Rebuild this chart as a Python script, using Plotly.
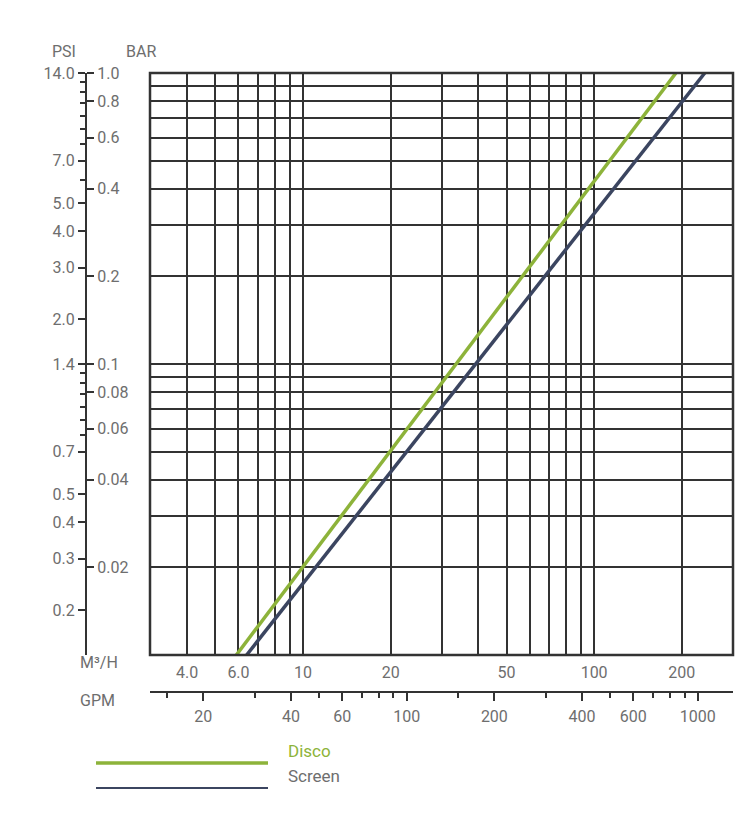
import numpy as np
import plotly.graph_objects as go

# flow in m3/h, pressure drop in bar
disco_flow = [5.9, 191]
disco_bar = [0.01, 1.0]
screen_flow = [6.4, 240]
screen_bar = [0.01, 1.0]

m3h_ticks = [4, 6, 10, 20, 50, 100, 200]
m3h_text = ["4.0", "6.0", "10", "20", "50", "100", "200"]
x_grid = [4, 5, 6, 7, 8, 9, 10, 20, 30, 40, 50, 60, 70, 80, 90, 100, 200]
gpm_ticks = [20, 40, 60, 100, 200, 400, 600, 1000]
gpm_minor = [15, 30, 50, 70, 80, 90, 150, 300, 500, 700, 800, 900]
bar_ticks = [1.0, 0.8, 0.6, 0.4, 0.2, 0.1, 0.08, 0.06, 0.04, 0.02]
bar_text = ["1.0", "0.8", "0.6", "0.4", "0.2", "0.1", "0.08", "0.06", "0.04", "0.02"]
y_grid = [0.9, 0.8, 0.7, 0.6, 0.5, 0.4, 0.3, 0.2, 0.1,
          0.09, 0.08, 0.07, 0.06, 0.05, 0.04, 0.03, 0.02]
psi_ticks = [14.0, 7.0, 5.0, 4.0, 3.0, 2.0, 1.4, 0.7, 0.5, 0.4, 0.3, 0.2]
psi_minor = [13, 12, 11, 10, 9, 8, 6, 1.3, 1.2, 1.1, 1.0, 0.9, 0.8]
GPM_PER_M3H = 4.403
PSI_PER_BAR = 14.0

GREEN = "#8db33a"
NAVY = "#3b4560"
GRID = "#333333"
TXT = "#6e6e6e"
FONT = dict(family="Roboto", size=16, color=TXT)

x0, x1 = 2.98, 300
y0, y1 = 0.01, 1.0
dom_x = [142 / 750, 725 / 750]
dom_y = [1 - 647 / 816, 1 - 65 / 816]
axis_pos = 78 / 750

fig = go.Figure()
fig.add_trace(go.Scatter(x=disco_flow, y=disco_bar, mode="lines", name="Disco",
                         line=dict(color=GREEN, width=3.5)))
fig.add_trace(go.Scatter(x=screen_flow, y=screen_bar, mode="lines", name="Screen",
                         line=dict(color=NAVY, width=3.5)))
# invisible trace to activate the GPM axis
fig.add_trace(go.Scatter(x=[x0 * GPM_PER_M3H], y=[y0], xaxis="x2", yaxis="y2",
                         mode="markers", marker=dict(opacity=0), showlegend=False,
                         hoverinfo="skip"))

fig.update_layout(
    width=750, height=816, paper_bgcolor="white", plot_bgcolor="white",
    margin=dict(l=0, r=0, t=0, b=0, autoexpand=False), showlegend=False, font=FONT,
    xaxis=dict(type="log", domain=dom_x, range=[np.log10(x0), np.log10(x1)],
               tickvals=m3h_ticks, ticktext=m3h_text, ticks="", showgrid=False,
               ticklabelstandoff=6, zeroline=False, automargin=False,
               minor=dict(tickvals=x_grid, showgrid=True, gridcolor=GRID, gridwidth=2.2)),
    xaxis2=dict(type="log", overlaying="x", anchor="free", position=1 - 684 / 816,
                domain=dom_x, automargin=False,
                range=[np.log10(x0 * GPM_PER_M3H), np.log10(x1 * GPM_PER_M3H)],
                tickvals=gpm_ticks, ticktext=[str(v) for v in gpm_ticks],
                showline=True, linecolor=GRID, linewidth=2, ticks="outside",
                ticklen=8, tickwidth=2, tickcolor=GRID, showgrid=False,
                ticklabelstandoff=2,
                minor=dict(tickvals=gpm_minor, ticks="outside", ticklen=5,
                           tickwidth=2, tickcolor=GRID, showgrid=False)),
    yaxis=dict(type="log", domain=dom_y, range=[np.log10(y0), np.log10(y1)],
               anchor="free", position=axis_pos, side="right", automargin=False,
               tickvals=bar_ticks, ticktext=bar_text, ticks="outside", ticklen=7,
               tickwidth=2, tickcolor=GRID, showgrid=False, zeroline=False,
               minor=dict(tickvals=y_grid, showgrid=True, gridcolor=GRID, gridwidth=2.2,
                          ticks="")),
    yaxis2=dict(type="log", overlaying="y", anchor="free", position=axis_pos,
                side="left", range=[np.log10(y0), np.log10(y1)], automargin=False,
                tickvals=[p / PSI_PER_BAR for p in psi_ticks],
                ticktext=[f"{p:.1f}" for p in psi_ticks],
                showline=True, linecolor=GRID, linewidth=2, ticks="outside",
                ticklen=7, tickwidth=2, tickcolor=GRID, showgrid=False,
                minor=dict(tickvals=[p / PSI_PER_BAR for p in psi_minor],
                           ticks="outside", ticklen=5, tickwidth=2, tickcolor=GRID)),
)

# plot frame
fig.add_shape(type="rect", xref="x domain", yref="y domain", x0=0, x1=1, y0=0, y1=1,
              line=dict(color=GRID, width=2.5))

labels = [("PSI", 42, 32), ("BAR", 116, 32), ("M³/H", 70, 666), ("GPM", 70, 704)]
for text, px, py in labels:
    fig.add_annotation(text=text, x=px / 750, y=1 - py / 816, xref="paper", yref="paper",
                       showarrow=False, font=FONT)

# legend drawn by hand
for i, tr in enumerate(fig.data[:2]):
    py = 1 - (755 + 25 * i) / 816
    fig.add_shape(type="line", xref="paper", yref="paper", x0=88 / 750, x1=260 / 750,
                  y0=py, y1=py, line=dict(color=tr.line.color, width=3.5 if i == 0 else 2))
    fig.add_annotation(text=tr.name, x=278 / 750, y=py, xref="paper", yref="paper",
                       xanchor="left", showarrow=False,
                       font=dict(family="Roboto", size=17,
                                 color=GREEN if i == 0 else TXT))

fig.write_html("out.html")
